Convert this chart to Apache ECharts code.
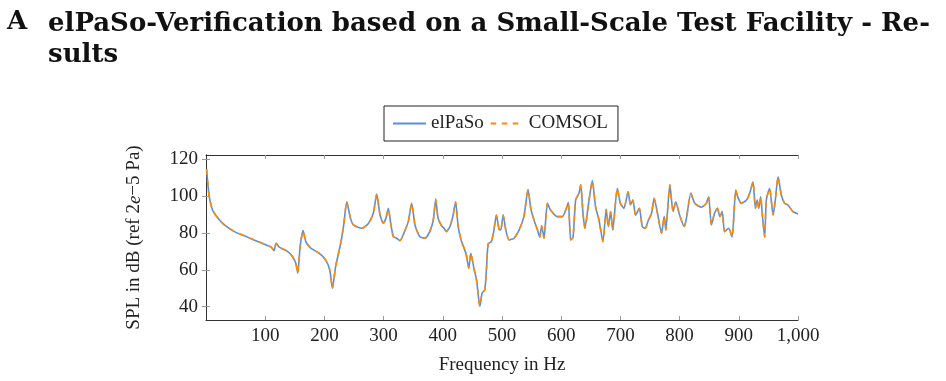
<!DOCTYPE html>
<html>
<head>
<meta charset="utf-8">
<script src="https://cdn.jsdelivr.net/npm/echarts@6/dist/echarts.min.js"></script>
<style>
html, body { margin: 0; padding: 0; background: #fff; }
#main { width: 946px; height: 381px; }
</style>
</head>
<body>
<div id="main"></div>
<script>
// frequency points (Hz)
var freq = [1, 3, 5.5, 11, 20, 31, 48, 65, 81, 98, 110, 115, 118.5, 123.6, 137.6, 146, 151.7, 155, 159, 164,
    168.6, 177, 191, 202, 209, 213.5, 219, 227.6, 233, 237.7, 244, 249, 263, 274, 282.6, 288.4, 294, 299.5, 304, 308,
    312, 316.4, 322, 327.7, 333, 341.7, 347.4, 353, 361, 370, 378, 384, 388, 392, 398, 402, 406, 412, 417.5, 421.6,
    426, 431.7, 439, 444, 447.4, 452.5, 457, 462.6, 466.4, 471, 474, 476.6, 482, 486, 490.5, 495, 498, 502, 506.4, 512,
    520.4, 529, 537, 544, 548.6, 554, 560, 563.7, 567, 571, 576.7, 582, 593.6, 602, 607.6, 612, 616, 620, 624.4, 630,
    633, 636.8, 640, 647, 652.6, 658, 663.8, 670.5, 676, 679.6, 683.5, 687, 694.8, 700, 706, 713, 717, 721, 725.6, 732,
    737, 742, 747, 752.6, 757, 762.7, 769.5, 774, 776.7, 783.5, 789, 793.5, 800, 807.8, 811.6, 819, 825.6, 837, 845, 849,
    853.7, 859, 864, 868, 872, 876, 883, 888.7, 894.8, 899, 904.4, 913, 918.4, 924, 928, 931, 933.8, 937, 940, 943.7,
    946.5, 952, 958, 961.7, 966.3, 971.8, 977.4, 983, 991.5, 1000];

// SPL in dB, elPaSo
var elpasoSpl = [114.5, 107, 99.6, 92.4, 88, 84.3, 80.7, 78.4, 76.2, 74, 72.3, 70.4, 74.4, 72.3, 70, 67.2, 63.6, 58.2, 72.6, 81.2,
    75.3, 71.7, 69, 65.4, 60, 50, 61.8, 74.4, 85.2, 96.9, 88, 84.3, 82.5, 84.9, 90.6, 101, 89.7, 85.2, 88, 93.3,
    85.2, 78, 77.1, 75.8, 78.9, 86.1, 96, 84.3, 78, 77.1, 80.7, 87, 98.2, 88, 83.8, 82.5, 80.7, 83.4, 89.7, 96.9,
    83.4, 75.3, 69, 60.9, 69, 60.9, 54.6, 40.2, 47.4, 49.2, 61.8, 74, 75.3, 80.7, 89.7, 82, 81.6, 89.7, 81.6, 76.2,
    77.1, 81.6, 88.8, 103.6, 93.3, 87, 81.6, 77.7, 83.8, 77.1, 96, 92.4, 88.8, 88.8, 92.4, 96.4, 76.2, 77.7, 97.8, 101.5,
    106, 90.6, 82.5, 97.8, 108.3, 94.2, 87, 75.3, 92.8, 83.4, 91.5, 81.6, 104.2, 96, 93.3, 102.3, 95.1, 97.8, 89.7, 93.3,
    83.4, 82.5, 86.6, 90.6, 98.8, 90.6, 79.8, 88.8, 81.6, 106, 91.5, 96.9, 89.7, 83.4, 88, 101.5, 96, 93.9, 96, 99.6,
    84.3, 90.6, 93.3, 88.8, 91.5, 80.7, 82.5, 77.7, 103.2, 98.8, 96, 97.8, 101.5, 107.7, 93.3, 97.8, 93.3, 99.6, 88.8, 77.7,
    97.8, 104.2, 89.7, 97.8, 110.4, 100.5, 96, 95.1, 91.5, 90.3];

// SPL in dB, COMSOL (lies on top of elPaSo)
var comsolSpl = [114.5, 107, 99.6, 92.4, 88, 84.3, 80.7, 78.4, 76.2, 74, 72.3, 70.4, 74.4, 72.3, 70, 67.2, 63.6, 58.2, 72.6, 81.2,
    75.3, 71.7, 69, 65.4, 60, 50, 61.8, 74.4, 85.2, 96.9, 88, 84.3, 82.5, 84.9, 90.6, 101, 89.7, 85.2, 88, 93.3,
    85.2, 78, 77.1, 75.8, 78.9, 86.1, 96, 84.3, 78, 77.1, 80.7, 87, 98.2, 88, 83.8, 82.5, 80.7, 83.4, 89.7, 96.9,
    83.4, 75.3, 69, 60.9, 69, 60.9, 54.6, 40.2, 47.4, 49.2, 61.8, 74, 75.3, 80.7, 89.7, 82, 81.6, 89.7, 81.6, 76.2,
    77.1, 81.6, 88.8, 103.6, 93.3, 87, 81.6, 77.7, 83.8, 77.1, 96, 92.4, 88.8, 88.8, 92.4, 96.4, 76.2, 77.7, 97.8, 101.5,
    106, 90.6, 82.5, 97.8, 108.3, 94.2, 87, 75.3, 92.8, 83.4, 91.5, 81.6, 104.2, 96, 93.3, 102.3, 95.1, 97.8, 89.7, 93.3,
    83.4, 82.5, 86.6, 90.6, 98.8, 90.6, 79.8, 88.8, 81.6, 106, 91.5, 96.9, 89.7, 83.4, 88, 101.5, 96, 93.9, 96, 99.6,
    84.3, 90.6, 93.3, 88.8, 91.5, 80.7, 82.5, 77.7, 103.2, 98.8, 96, 97.8, 101.5, 107.7, 93.3, 97.8, 93.3, 99.6, 88.8, 77.7,
    97.8, 104.2, 89.7, 97.8, 110.4, 100.5, 96, 95.1, 91.5, 90.3];

var xTicks = [100, 200, 300, 400, 500, 600, 700, 800, 900, 1000];
var yTicks = [40, 60, 80, 100, 120];

function pairs(xs, ys) {
    var out = [];
    for (var i = 0; i < xs.length; i++) out.push([xs[i], ys[i]]);
    return out;
}

var serif = '"Liberation Serif", "DejaVu Serif", serif';
var tickStyle = { show: true, inside: true, length: 4, lineStyle: { color: '#999', width: 1 } };

var myChart = echarts.init(document.getElementById('main'));

option = {
    backgroundColor: '#fff',
    animation: false,
    title: [
        {
            text: 'A',
            left: 7, top: 9, padding: 0,
            textStyle: { fontFamily: '"DejaVu Serif", serif', fontWeight: 'bold', fontSize: 26, color: '#111' }
        },
        {
            text: 'elPaSo-Verification based on a Small-Scale Test Facility - Re-\nsults',
            left: 48, top: 9, padding: 0,
            textStyle: { fontFamily: '"DejaVu Serif", serif', fontWeight: 'bold', fontSize: 26, color: '#111', lineHeight: 31 }
        }
    ],
    legend: {
        data: ['elPaSo', 'COMSOL'],
        left: 384, top: 106,
        padding: [8, 10, 8, 8],
        borderColor: '#222', borderWidth: 1,
        itemWidth: 33, itemHeight: 14, itemGap: 6,
        itemStyle: { opacity: 0 },
        textStyle: { fontFamily: serif, fontSize: 19, color: '#222' }
    },
    grid: { left: 206, right: 148, top: 155, bottom: 61, containLabel: false },
    xAxis: [
        {
            type: 'value', min: 0, max: 1000, interval: 100,
            name: 'Frequency in Hz', nameLocation: 'middle', nameGap: 36,
            nameTextStyle: { fontFamily: serif, fontSize: 19, color: '#222' },
            axisLine: { show: true, lineStyle: { color: '#333', width: 1 } },
            axisTick: Object.assign({ customValues: xTicks }, tickStyle),
            axisLabel: {
                customValues: xTicks, margin: 7,
                fontFamily: serif, fontSize: 19, color: '#222',
                formatter: function (v) { return v >= 1000 ? '1,000' : String(v); }
            },
            splitLine: { show: false }
        },
        {
            type: 'value', position: 'top', min: 0, max: 1000, interval: 100,
            axisLine: { show: true, lineStyle: { color: '#333', width: 1 } },
            axisTick: Object.assign({ customValues: xTicks }, tickStyle),
            axisLabel: { show: false },
            splitLine: { show: false }
        }
    ],
    yAxis: [
        {
            type: 'value', min: 32.8, max: 122.2,
            name: '{n|SPL in dB (ref 2}{i|e}{n|\u22125 Pa)}',
            nameLocation: 'middle', nameRotate: 90, nameGap: 62,
            nameTextStyle: {
                rich: {
                    n: { fontFamily: serif, fontSize: 19, color: '#222' },
                    i: { fontFamily: serif, fontSize: 19, fontStyle: 'italic', color: '#222' }
                }
            },
            axisLine: { show: true, lineStyle: { color: '#333', width: 1 } },
            axisTick: Object.assign({ customValues: yTicks }, tickStyle),
            axisLabel: { customValues: yTicks, margin: 8, fontFamily: serif, fontSize: 19, color: '#222' },
            splitLine: { show: false }
        },
        {
            type: 'value', position: 'right', min: 32.8, max: 122.2,
            axisLine: { show: true, lineStyle: { color: '#333', width: 1 } },
            axisTick: Object.assign({ customValues: yTicks }, tickStyle),
            axisLabel: { show: false },
            splitLine: { show: false }
        }
    ],
    series: [
        {
            name: 'elPaSo',
            type: 'line',
            data: pairs(freq, elpasoSpl),
            symbol: 'none',
            smooth: 0.2,
            lineStyle: { color: '#5b8fdc', width: 1.6 },
            itemStyle: { color: '#5b8fdc' }
        },
        {
            name: 'COMSOL',
            type: 'line',
            data: pairs(freq, comsolSpl),
            symbol: 'none',
            smooth: 0.2,
            lineStyle: { color: '#ff8a00', width: 1.6, type: [5.5, 5.5] },
            itemStyle: { color: '#ff8a00' }
        }
    ]
};
myChart.setOption(option);
</script>
</body>
</html>
